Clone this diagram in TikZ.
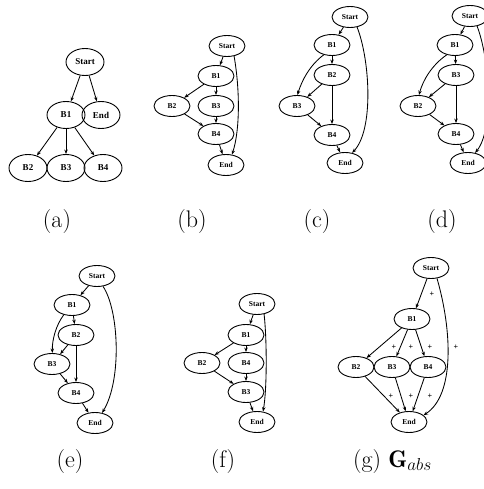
\documentclass[tikz,border=0pt]{standalone}
\usepackage{fontspec}
\newfontfamily\lblfont{Liberation Serif}
\usetikzlibrary{shapes.geometric,arrows.meta}
\begin{document}
\begin{tikzpicture}[x=1pt,y=-1pt,
  blk/.style={ellipse, draw, line width=0.9pt, inner sep=0pt,
    minimum width=36pt, minimum height=21pt,
    font=\lblfont\bfseries\fontsize{7.5}{8}\selectfont},
  blkbig/.style={blk, minimum width=38pt, minimum height=27pt,
    font=\lblfont\bfseries\fontsize{9}{10}\selectfont},
  arr/.style={line width=0.85pt, -{Stealth[length=4.5pt,width=3.4pt]}},
  captxt/.style={font=\fontsize{24}{28}\selectfont, anchor=base, inner sep=0pt},
  pl/.style={font=\lblfont\bfseries\fontsize{8}{9}\selectfont, inner sep=0pt}]
\useasboundingbox (0,0) rectangle (483,489);

% ---------- (a) ----------
\node[blkbig] (aS)  at (85,62)  {Start};
\node[blkbig] (aB1) at (66,115) {B1};
\node[blkbig] (aE)  at (101,115) {End};
\node[blkbig] (aB2) at (28,168) {B2};
\node[blkbig] (aB3) at (66,168) {B3};
\node[blkbig] (aB4) at (103,168) {B4};
\draw[arr] (aS) -- (aB1);
\draw[arr] (aS) -- (aE);
\draw[arr] (aB1) -- (aB2);
\draw[arr] (aB1) -- (aB3);
\draw[arr] (aB1) -- (aB4);
\node[captxt] (capa) at (57,227) {(a)};

% ---------- (b) ----------
\node[blk] (bS)  at (227,46)  {Start};
\node[blk] (bB1) at (216,76)  {B1};
\node[blk] (bB2) at (172,106) {B2};
\node[blk] (bB3) at (216,106) {B3};
\node[blk] (bB4) at (216,134) {B4};
\node[blk] (bE)  at (226,165) {End};
\draw[arr] (bS) -- (bB1);
\draw[arr] (bB1) -- (bB2);
\draw[arr] (bB1) -- (bB3);
\draw[arr] (bB2) -- (bB4);
\draw[arr] (bB3) -- (bB4);
\draw[arr] (bB4) -- (bE);
\draw[arr] (bS.-55) .. controls (240,90) and (240,130) .. (bE.60);
\node[captxt] (capb) at (192,227) {(b)};

% ---------- (c) ----------
\node[blk] (cS)  at (350,17)  {Start};
\node[blk] (cB1) at (332,45)  {B1};
\node[blk] (cB2) at (332,75)  {B2};
\node[blk] (cB3) at (297,106) {B3};
\node[blk] (cB4) at (332,135) {B4};
\node[blk] (cE)  at (345,163) {End};
\draw[arr] (cS) -- (cB1);
\draw[arr] (cB1) -- (cB2);
\draw[arr] (cB2) -- (cB3);
\draw[arr] (cB2) -- (cB4);
\draw[arr] (cB3) -- (cB4);
\draw[arr] (cB4) -- (cE);
\draw[arr] (cB1.-130) .. controls (310,65) and (302,80) .. (cB3.88);
\draw[arr] (cS.-55) .. controls (370,60) and (374,130) .. (cE.55);
\node[captxt] (capc) at (317,227) {(c)};

% ---------- (d) ----------
\node[blk] (dS)  at (470,16)  {Start};
\node[blk] (dB1) at (455,45)  {B1};
\node[blk] (dB3) at (456,75)  {B3};
\node[blk] (dB2) at (418,106) {B2};
\node[blk] (dB4) at (456,134) {B4};
\node[blk] (dE)  at (468,163) {End};
\draw[arr] (dS) -- (dB1);
\draw[arr] (dB1) -- (dB3);
\draw[arr] (dB3) -- (dB2);
\draw[arr] (dB3) -- (dB4);
\draw[arr] (dB2) -- (dB4);
\draw[arr] (dB4) -- (dE);
\draw[arr] (dB1.-130) .. controls (432,65) and (423,80) .. (dB2.85);
\draw[arr] (dS.-55) .. controls (490,60) and (494,130) .. (dE.55);
\node[captxt] (capd) at (442,227) {(d)};

% ---------- (e) ----------
\node[blk] (eS)  at (97,276) {Start};
\node[blk] (eB1) at (72,305) {B1};
\node[blk] (eB2) at (76,335) {B2};
\node[blk] (eB3) at (52,364) {B3};
\node[blk] (eB4) at (76,393) {B4};
\node[blk] (eE)  at (95,423) {End};
\draw[arr] (eS) -- (eB1);
\draw[arr] (eB1) -- (eB2);
\draw[arr] (eB2) -- (eB3);
\draw[arr] (eB2) -- (eB4);
\draw[arr] (eB3) -- (eB4);
\draw[arr] (eB4) -- (eE);
\draw[arr] (eB1.-130) .. controls (56,325) and (52,340) .. (eB3.88);
\draw[arr] (eS.-60) .. controls (119,310) and (122,380) .. (eE.55);
\node[captxt] (cape) at (70,467) {(e)};

% ---------- (f) ----------
\node[blk] (fS)  at (257,304) {Start};
\node[blk] (fB1) at (246,335) {B1};
\node[blk] (fB2) at (202,363) {B2};
\node[blk] (fB4) at (246,363) {B4};
\node[blk] (fB3) at (246,392) {B3};
\node[blk] (fE)  at (257,422) {End};
\draw[arr] (fS) -- (fB1);
\draw[arr] (fB1) -- (fB2);
\draw[arr] (fB1) -- (fB4);
\draw[arr] (fB2) -- (fB3);
\draw[arr] (fB4) -- (fB3);
\draw[arr] (fB3) -- (fE);
\draw[arr] (fS.-55) .. controls (267,340) and (267,390) .. (fE.60);
\node[captxt] (capf) at (223,467) {(f)};

% ---------- (g) ----------
\node[blk] (gS)  at (431,268) {Start};
\node[blk] (gB1) at (412,319) {B1};
\node[blk] (gB2) at (356,367) {B2};
\node[blk] (gB3) at (392,367) {B3};
\node[blk] (gB4) at (428,367) {B4};
\node[blk] (gE)  at (409,422) {End};
\draw[arr] (gS) -- (gB1);
\draw[arr] (gB1) -- (gB2);
\draw[arr] (gB1) -- (gB3);
\draw[arr] (gB1) -- (gB4);
\draw[arr] (gB2) -- (gE);
\draw[arr] (gB3) -- (gE);
\draw[arr] (gB4) -- (gE);
\draw[arr] (gS.-60) .. controls (452,330) and (455,395) .. (gE.25);
\node[pl] (p1) at (432,294) {+};
\node[pl] (p2) at (394,347) {+};
\node[pl] (p3) at (411,347) {+};
\node[pl] (p4) at (430,347) {+};
\node[pl] (p5) at (456,347) {+};
\node[pl] (p6) at (391,396) {+};
\node[pl] (p7) at (411,396) {+};
\node[pl] (p8) at (430,396) {+};
\node[captxt, anchor=base west] (capg) at (353,467) {(g) $\mathbf{G}_{abs}$};
\end{tikzpicture}
\end{document}
